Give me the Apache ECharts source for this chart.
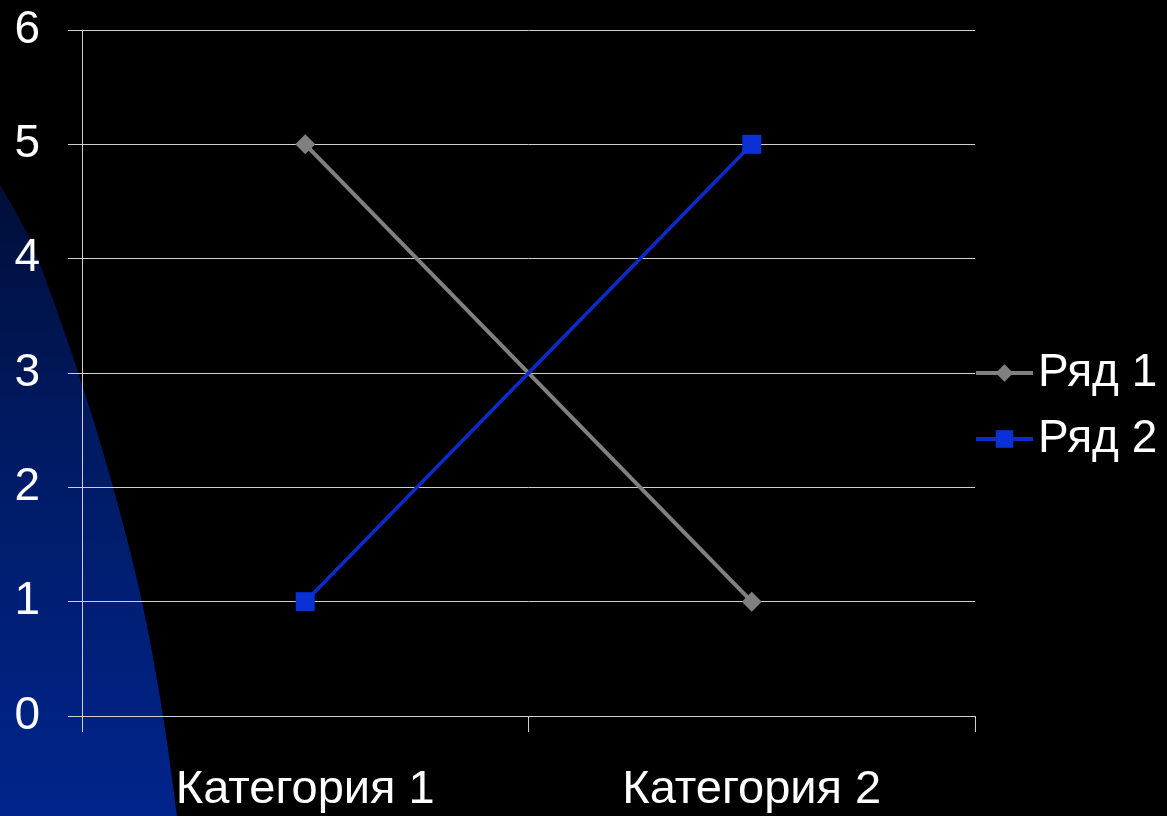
<!DOCTYPE html>
<html>
<head>
<meta charset="utf-8">
<style>html,body{margin:0;padding:0;background:#000;}#c{width:1167px;height:816px;}</style>
<script src="https://cdn.jsdelivr.net/npm/echarts@6/dist/echarts.min.js"></script>
</head>
<body>
<div id="c"></div>
<script>
const categories = ['Категория 1', 'Категория 2'];
const series1Name = 'Ряд 1';
const series1 = [5, 1];
const series2Name = 'Ряд 2';
const series2 = [1, 5];
const yTicks = [0, 1, 2, 3, 4, 5, 6];

// decorative background swoosh (not data): anchor pixels, smoothed with Catmull-Rom
const swooshAnchors = [[0,185],[20,220],[38,259],[78,372],[113,487],[142,602],[163,716],[177,816]];
function smoothPts(a) {
  const out = [];
  for (let i = 0; i < a.length - 1; i++) {
    const p0 = a[Math.max(0, i - 1)], p1 = a[i], p2 = a[i + 1], p3 = a[Math.min(a.length - 1, i + 2)];
    for (let t = 0; t < 1; t += 0.1) {
      const t2 = t * t, t3 = t2 * t;
      const f = (k) => 0.5 * ((2 * p1[k]) + (-p0[k] + p2[k]) * t + (2 * p0[k] - 5 * p1[k] + 4 * p2[k] - p3[k]) * t2 + (-p0[k] + 3 * p1[k] - 3 * p2[k] + p3[k]) * t3);
      out.push([f(0), f(1)]);
    }
  }
  out.push(a[a.length - 1]);
  out.push([0, 816]);
  return out;
}

const chart = echarts.init(document.getElementById('c'), null, {renderer: 'canvas'});
const font = 'Liberation Sans, Arial, sans-serif';
chart.setOption({
  backgroundColor: '#000',
  animation: false,
  graphic: [{
    type: 'polygon',
    z: -10,
    silent: true,
    shape: {points: smoothPts(swooshAnchors)},
    style: {
      fill: {
        type: 'linear', x: 0, y: 0, x2: 0, y2: 1,
        colorStops: [
          {offset: 0, color: '#000e38'},
          {offset: 0.4, color: '#001a62'},
          {offset: 1, color: '#00248c'}
        ]
      }
    }
  }],
  grid: {left: 82, right: 192, top: 30, bottom: 100, containLabel: false},
  legend: {
    orient: 'vertical',
    left: 969,
    top: 345,
    itemWidth: 57,
    itemHeight: 22,
    itemGap: 20,
    lineStyle: {width: 4},
    textStyle: {color: '#fff', fontSize: 46, fontFamily: font},
    data: [series1Name, series2Name]
  },
  xAxis: {
    type: 'category',
    data: categories,
    boundaryGap: true,
    axisLine: {show: true, lineStyle: {color: '#d0d0d0', width: 1}},
    axisTick: {show: true, length: 16, lineStyle: {color: '#d0d0d0'}},
    axisLabel: {color: '#fff', fontSize: 47, fontFamily: font, margin: 51}
  },
  yAxis: {
    type: 'value',
    min: yTicks[0],
    max: yTicks[yTicks.length - 1],
    interval: 1,
    axisLine: {show: true, lineStyle: {color: '#d0d0d0', width: 1}},
    axisTick: {show: true, length: 14, lineStyle: {color: '#d0d0d0'}},
    splitLine: {show: true, lineStyle: {color: '#d0d0d0', width: 1}},
    axisLabel: {color: '#fff', fontSize: 46, fontFamily: font, margin: 42}
  },
  series: [
    {
      name: series1Name,
      type: 'line',
      data: series1,
      symbol: 'diamond',
      symbolSize: 20,
      itemStyle: {color: '#808080'},
      lineStyle: {color: '#808080', width: 4}
    },
    {
      name: series2Name,
      type: 'line',
      data: series2,
      symbol: 'rect',
      symbolSize: 19,
      itemStyle: {color: '#0a30d6'},
      lineStyle: {color: '#0a2ccc', width: 3.5}
    }
  ]
});
</script>
</body>
</html>
